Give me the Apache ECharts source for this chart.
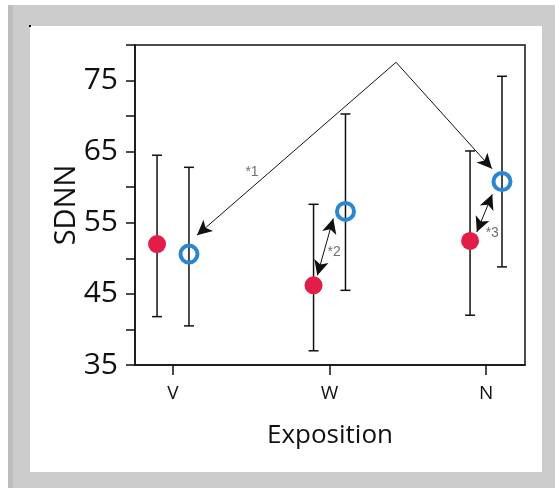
<!DOCTYPE html>
<html>
<head>
<meta charset="utf-8">
<script src="https://cdn.jsdelivr.net/npm/echarts@6/dist/echarts.min.js"></script>
<style>
html,body{margin:0;padding:0;background:#fff;}
#chart{width:555px;height:488px;}
</style>
</head>
<body>
<div id="chart"></div>
<script>
// ---- data ----
const categories = ['V', 'W', 'N'];
const redMean  = [52.0, 46.2, 52.45];
const redLow   = [41.8, 37.0, 42.0];
const redHigh  = [64.5, 57.6, 65.1];
const blueMean = [50.6, 56.6, 60.8];
const blueLow  = [40.5, 45.5, 48.8];
const blueHigh = [62.8, 70.3, 75.6];
const yTickLabels = [35, 45, 55, 65, 75];
const yTicks = [35, 40, 45, 50, 55, 60, 65, 70, 75, 80];

// annotations (data coordinates)
const arrowApex = [1.425, 77.57];
const arrow1Targets = [[0.153, 53.25], [2.038, 62.6]];
const arrow2 = [[1.024, 55.6], [0.922, 47.6]];
const arrow3 = [[2.040, 59.0], [1.941, 53.7]];
const annotLabels = ['*1', '*2', '*3'];
const annotLabelPos = [[0.505, 62.1], [1.029, 50.9], [2.04, 53.5]];

// ---- layout constants ----
const groupOffset = 0.102;
const RED = '#e11d48';
const BLUE = '#2a86d1';

const idx = categories.map((_, i) => i);
const redPts = idx.map(i => [i - groupOffset, redMean[i]]);
const bluePts = idx.map(i => [i + groupOffset, blueMean[i]]);
const errData = idx.map(i => [i - groupOffset, redLow[i], redHigh[i]])
  .concat(idx.map(i => [i + groupOffset, blueLow[i], blueHigh[i]]));

const chart = echarts.init(document.getElementById('chart'), null, {renderer: 'canvas'});

const option = {
  animation: false,
  backgroundColor: '#cccccc',
  graphic: [
    {type: 'rect', z: -10, silent: true, shape: {x: 0, y: 0, width: 555, height: 5}, style: {fill: '#ffffff'}},
    {type: 'rect', z: -10, silent: true, shape: {x: 0, y: 0, width: 8, height: 488}, style: {fill: '#ffffff'}},
    {type: 'rect', z: -10, silent: true, shape: {x: 8, y: 5, width: 5, height: 483}, style: {fill: '#bdbdbd'}},
    {type: 'rect', z: -10, silent: true, shape: {x: 30, y: 26, width: 512, height: 446}, style: {fill: '#ffffff'}},
    {type: 'rect', z: -9, silent: true, shape: {x: 29, y: 25, width: 2, height: 2}, style: {fill: '#000'}}
  ],
  grid: {
    left: 135, top: 45, width: 390, height: 320,
    show: true, borderColor: '#111', borderWidth: 1.5, backgroundColor: 'transparent'
  },
  xAxis: {
    type: 'value',
    min: -0.2428, max: 2.249,
    splitLine: {show: false},
    axisLine: {onZero: false, lineStyle: {color: '#111', width: 1.5}},
    axisTick: {show: true, length: 10, lineStyle: {color: '#111', width: 1.5}, customValues: idx},
    axisLabel: {
      customValues: idx,
      formatter: v => categories[Math.round(v)],
      fontFamily: 'Open Sans', fontSize: 19, color: '#111', margin: 19
    },
    name: 'Exposition',
    nameLocation: 'middle',
    nameGap: 58,
    nameMoveOverlap: false,
    nameTextStyle: {fontFamily: 'Open Sans', fontSize: 26, color: '#111'}
  },
  yAxis: {
    type: 'value',
    min: 35, max: 80, interval: 5,
    splitLine: {show: false},
    axisLine: {onZero: false, lineStyle: {color: '#111', width: 1.5}},
    axisTick: {show: true, length: 9, lineStyle: {color: '#111', width: 1.5}, customValues: yTicks},
    axisLabel: {
      customValues: yTickLabels,
      fontFamily: 'Open Sans', fontSize: 30, color: '#111', margin: 17
    },
    name: 'SDNN',
    nameLocation: 'middle',
    nameGap: 54,
    nameMoveOverlap: false,
    nameTextStyle: {fontFamily: 'Open Sans', fontSize: 29, color: '#111'}
  },
  series: [
    {
      type: 'custom',
      z: 1,
      data: errData,
      renderItem: function (params, api) {
        const x = api.value(0);
        const lo = api.coord([x, api.value(1)]);
        const hi = api.coord([x, api.value(2)]);
        const cw = 5;
        const st = {stroke: '#111', lineWidth: 1.5};
        return {
          type: 'group',
          children: [
            {type: 'line', shape: {x1: lo[0], y1: lo[1], x2: hi[0], y2: hi[1]}, style: st},
            {type: 'line', shape: {x1: lo[0] - cw, y1: lo[1], x2: lo[0] + cw, y2: lo[1]}, style: st},
            {type: 'line', shape: {x1: hi[0] - cw, y1: hi[1], x2: hi[0] + cw, y2: hi[1]}, style: st}
          ]
        };
      }
    },
    {
      type: 'scatter',
      z: 3,
      data: redPts,
      symbol: 'circle',
      symbolSize: 18,
      itemStyle: {color: RED, opacity: 1}
    },
    {
      type: 'scatter',
      z: 3,
      data: bluePts,
      symbol: 'circle',
      symbolSize: 17,
      itemStyle: {color: 'rgba(255,255,255,0)', borderColor: BLUE, borderWidth: 4, opacity: 1}
    },
    {
      type: 'scatter',
      z: 4,
      data: annotLabelPos.map((p, i) => ({value: p, name: annotLabels[i]})),
      symbolSize: 0,
      label: {
        show: true, position: 'inside', formatter: '{b}',
        fontFamily: 'Liberation Sans', fontSize: 14, color: '#4a4a4a'
      },
      markLine: {
        silent: true,
        symbol: ['none', 'arrow'],
        symbolSize: [11, 15],
        label: {show: false},
        lineStyle: {color: '#111', width: 1, type: 'solid'},
        data: [
          [{coord: arrowApex, symbol: 'none'}, {coord: arrow1Targets[0], symbol: 'arrow'}],
          [{coord: arrowApex, symbol: 'none'}, {coord: arrow1Targets[1], symbol: 'arrow'}],
          [{coord: arrow2[0], symbol: 'arrow'}, {coord: arrow2[1], symbol: 'arrow'}],
          [{coord: arrow3[0], symbol: 'arrow'}, {coord: arrow3[1], symbol: 'arrow'}]
        ]
      }
    }
  ]
};
chart.setOption(option);
</script>
</body>
</html>
